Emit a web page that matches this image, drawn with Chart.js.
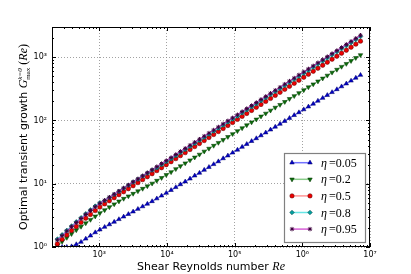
<!DOCTYPE html>
<html lang="en">
<head>
  <meta charset="UTF-8" />
  <title>Optimal transient growth</title>
  <style>
    body {
      margin: 0;
      background-color: #ffffff;
    }

    #chart-container {
      width: 411px;
      height: 274px;
      position: relative;
    }
  </style>
</head>
<body>

<div id="chart-container">
  <canvas id="growthChart" aria-label="Optimal transient growth versus shear Reynolds number" role="img"></canvas>
</div>

<script src="https://cdn.jsdelivr.net/npm/chart.js"></script>

<script>
// Shear Reynolds numbers of the computed points
const reynolds = [240, 282, 331, 389, 457, 537, 631, 741, 871, 1020,
  1200, 1410, 1660, 1950, 2290, 2690, 3160, 3720, 4370, 5130,
  6030, 7080, 8320, 9770, 11500, 13500, 15800, 18600, 21900, 25700,
  30200, 35500, 41700, 49000, 57500, 67600, 79400, 93300, 110000, 129000,
  151000, 178000, 209000, 245000, 288000, 339000, 398000, 468000, 550000, 646000,
  759000, 891000, 1050000, 1230000, 1450000, 1700000, 2000000, 2340000, 2750000, 3240000,
  3800000, 4470000, 5250000, 6170000, 7240000];

// G_max^{k=0} for each radius ratio eta
const gEta005 = [1.00, 1.00, 1.00, 1.02, 1.10, 1.20, 1.35, 1.51, 1.70, 1.88,
  2.07, 2.27, 2.49, 2.74, 3.01, 3.30, 3.62, 3.98, 4.37, 4.80,
  5.27, 5.83, 6.46, 7.14, 7.91, 8.79, 9.75, 10.8, 12.0, 13.4,
  14.8, 16.5, 18.3, 20.3, 22.5, 25.1, 27.8, 30.9, 34.3, 38.1,
  42.3, 47.0, 52.1, 57.9, 64.3, 71.4, 79.3, 88.1, 97.7, 109,
  121, 134, 149, 165, 183, 204, 226, 251, 279, 310,
  344, 382, 424, 471, 522];

const gEta02 = [1.05, 1.22, 1.40, 1.61, 1.85, 2.10, 2.38, 2.70, 3.05, 3.44,
  3.83, 4.27, 4.75, 5.28, 5.81, 6.35, 6.97, 7.64, 8.36, 9.16,
  10.1, 11.2, 12.4, 13.8, 15.3, 17.1, 19.0, 21.1, 23.5, 26.1,
  29.0, 32.4, 36.0, 40.0, 44.5, 49.4, 55.1, 61.2, 68.1, 75.7,
  84.3, 93.8, 104, 116, 129, 144, 160, 177, 197, 220,
  244, 272, 302, 336, 374, 416, 462, 514, 573, 637,
  708, 787, 875, 975, 1084];

const gEta05 = [1.12, 1.32, 1.55, 1.82, 2.11, 2.45, 2.85, 3.27, 3.76, 4.27,
  4.80, 5.37, 6.00, 6.70, 7.46, 8.34, 9.29, 10.4, 11.6, 12.9,
  14.4, 16.1, 17.9, 20.0, 22.3, 24.9, 27.8, 31.0, 34.7, 38.6,
  43.2, 48.1, 53.7, 60.0, 66.8, 74.6, 83.2, 92.9, 104, 116,
  129, 144, 161, 179, 200, 223, 249, 278, 310, 346,
  386, 431, 481, 537, 598, 668, 745, 832, 929, 1035,
  1156, 1288, 1439, 1607, 1791];

const gEta08 = [1.33, 1.56, 1.83, 2.15, 2.50, 2.90, 3.36, 3.86, 4.43, 5.01,
  5.42, 6.06, 6.77, 7.56, 8.46, 9.45, 10.6, 11.8, 13.2, 14.7,
  16.4, 17.8, 19.9, 22.2, 24.7, 27.7, 30.9, 34.6, 38.8, 43.3,
  48.3, 54.0, 60.4, 67.4, 75.3, 84.3, 94.2, 105, 117, 132,
  147, 164, 183, 205, 229, 257, 287, 320, 358, 400,
  447, 500, 559, 624, 696, 780, 871, 973, 1089, 1217,
  1358, 1520, 1698, 1897, 2123];

const gEta095 = [1.29, 1.51, 1.78, 2.09, 2.43, 2.82, 3.27, 3.76, 4.32, 4.90,
  5.47, 6.12, 6.84, 7.64, 8.55, 9.55, 10.7, 11.9, 13.3, 14.9,
  16.6, 18.6, 20.8, 23.2, 25.9, 29.0, 32.4, 36.2, 40.6, 45.3,
  50.6, 56.5, 63.2, 70.6, 78.9, 88.3, 98.6, 110, 123, 138,
  154, 172, 192, 215, 240, 269, 300, 335, 375, 419,
  468, 524, 585, 653, 729, 817, 912, 1019, 1140, 1274,
  1422, 1592, 1778, 1986, 2223];

const etaLabels = ['0.05', '0.2', '0.5', '0.8', '0.95'];

// axis ticks
const xMajorTicks = [1e3, 1e4, 1e5, 1e6, 1e7];
const xTickLabels = ['10³', '10⁴', '10⁵', '10⁶', '10⁷'];
const yMajorTicks = [1, 10, 100, 1000];
const yTickLabels = ['10⁰', '10¹', '10²', '10³'];

const X_MIN = 200, X_MAX = 1e7, Y_MIN = 1, Y_MAX = 3000;

// log ticks: majors plus the 2..9 minors in between, inside the axis range
function logTicks(majors, min, max) {
  const out = [];
  let decade = Math.pow(10, Math.floor(Math.log10(min)));
  while (decade <= max) {
    for (let m = 1; m <= 9; m++) {
      const v = m * decade;
      if (v >= min * 0.999 && v <= max * 1.001) {
        out.push({ value: v, major: majors.includes(v) });
      }
    }
    decade *= 10;
  }
  return out;
}

const series = [
  { g: gEta005, line: 'rgba(40, 40, 255, 0.65)', fill: '#0000c8', edge: '#00005a', style: 'triangle', rot: 0, r: 2.6, bw: 0.5 },
  { g: gEta02, line: 'rgba(60, 170, 60, 0.6)', fill: '#0a6e0a', edge: '#053005', style: 'triangle', rot: 180, r: 2.6, bw: 0.5 },
  { g: gEta05, line: 'rgba(255, 80, 80, 0.6)', fill: '#ee0000', edge: '#500000', style: 'circle', rot: 0, r: 2.2, bw: 0.5 },
  { g: gEta08, line: 'rgba(40, 220, 220, 0.7)', fill: '#00a0a0', edge: '#003838', style: 'rectRot', rot: 0, r: 2.3, bw: 0.5 },
  { g: gEta095, line: 'rgba(200, 40, 200, 0.75)', fill: '#3c003c', edge: '#3c003c', style: 'star', rot: 0, r: 2.2, bw: 1 }
];

const datasets = series.map((s, i) => ({
  label: 'η=' + etaLabels[i],
  data: reynolds.map((re, j) => ({ x: re, y: s.g[j] })),
  borderColor: s.line,
  borderWidth: 1.3,
  backgroundColor: s.fill,
  pointBackgroundColor: s.fill,
  pointBorderColor: s.edge,
  pointBorderWidth: s.bw,
  pointStyle: s.style,
  pointRotation: s.rot,
  pointRadius: s.r,
  tension: 0,
  order: series.length - 1 - i
}));

const mathFont = '"Liberation Serif", "DejaVu Serif", serif';
const sansFont = '"DejaVu Sans", sans-serif';

function layoutPieces(ctx, pieces) {
  let x = 0, pending = 0;
  const items = [];
  pieces.forEach(p => {
    ctx.font = p.font;
    const w = ctx.measureText(p.text).width;
    items.push(Object.assign({}, p, { x: x }));
    if (p.stack) {
      pending = Math.max(pending, w);
    } else {
      x += Math.max(w, pending);
      pending = 0;
    }
  });
  return { items: items, width: x };
}

function drawPieces(ctx, pieces, cx, baseline, rotate) {
  const lay = layoutPieces(ctx, pieces);
  ctx.save();
  if (rotate) {
    ctx.translate(baseline, cx);
    ctx.rotate(-Math.PI / 2);
  } else {
    ctx.translate(cx, baseline);
  }
  ctx.fillStyle = '#000';
  ctx.textBaseline = 'alphabetic';
  ctx.textAlign = 'left';
  lay.items.forEach(p => {
    ctx.font = p.font;
    ctx.fillText(p.text, p.x - lay.width / 2, p.dy || 0);
  });
  ctx.restore();
}

const extras = {
  id: 'extras',
  afterDraw(chart) {
    const ctx = chart.ctx;
    const a = chart.chartArea;
    const xs = chart.scales.x, ys = chart.scales.y;
    ctx.save();

    // inward tick marks on all four sides
    ctx.strokeStyle = '#000';
    ctx.lineWidth = 1;
    ctx.beginPath();
    xs.ticks.forEach(t => {
      const px = Math.round(xs.getPixelForValue(t.value)) + 0.5;
      const len = t.major ? 4 : 2;
      ctx.moveTo(px, a.bottom); ctx.lineTo(px, a.bottom - len);
      ctx.moveTo(px, a.top); ctx.lineTo(px, a.top + len);
    });
    ys.ticks.forEach(t => {
      const py = Math.round(ys.getPixelForValue(t.value)) + 0.5;
      const len = t.major ? 4 : 2;
      ctx.moveTo(a.left, py); ctx.lineTo(a.left + len, py);
      ctx.moveTo(a.right, py); ctx.lineTo(a.right - len, py);
    });
    ctx.stroke();

    // axes frame
    ctx.strokeRect(a.left + 0.5, a.top + 0.5, a.right - a.left - 1, a.bottom - a.top - 1);

    // legend
    const lx = 284, ly = 153, lw = 81, lh = 89;
    ctx.fillStyle = '#fff';
    ctx.fillRect(lx, ly, lw, lh);
    ctx.strokeStyle = '#808080';
    ctx.lineWidth = 1.2;
    ctx.strokeRect(lx + 0.5, ly + 0.5, lw, lh);
    series.forEach((s, i) => {
      const rowY = 162.7 + i * 16.6;
      ctx.strokeStyle = s.line;
      ctx.lineWidth = 1.5;
      ctx.beginPath();
      ctx.moveTo(292, rowY); ctx.lineTo(310, rowY);
      ctx.stroke();
      [292, 310].forEach(px => {
        ctx.fillStyle = s.fill;
        ctx.strokeStyle = s.edge;
        ctx.lineWidth = s.bw;
        Chart.helpers.drawPoint(ctx, {
          pointStyle: s.style, rotation: s.rot, radius: s.r, borderWidth: s.bw
        }, px, rowY);
      });
      ctx.fillStyle = '#000';
      ctx.font = 'italic 12px ' + mathFont;
      ctx.textBaseline = 'alphabetic';
      ctx.textAlign = 'left';
      ctx.fillText('η', 321, rowY + 4);
      ctx.font = '12px ' + mathFont;
      ctx.fillText('=' + etaLabels[i], 329, rowY + 4);
    });

    // axis titles
    drawPieces(ctx, [
      { text: 'Shear Reynolds number ', font: '11px ' + sansFont },
      { text: 'Re', font: 'italic 12px ' + mathFont }
    ], (a.left + a.right) / 2, 270, false);

    drawPieces(ctx, [
      { text: 'Optimal transient growth ', font: '11px ' + sansFont },
      { text: 'G', font: 'italic 12px ' + mathFont },
      { text: 'k=0', font: 'italic 7px ' + mathFont, dy: -5, stack: true },
      { text: 'max', font: '7px ' + mathFont, dy: 3 },
      { text: ' (', font: '12px ' + mathFont },
      { text: 'Re', font: 'italic 12px ' + mathFont },
      { text: ')', font: '12px ' + mathFont }
    ], (a.top + a.bottom) / 2, 27, true);

    ctx.restore();
  }
};

function gridColor(c) {
  return c.tick && c.tick.major ? '#8a8a8a' : 'rgba(0,0,0,0)';
}

new Chart(document.getElementById('growthChart').getContext('2d'), {
  type: 'line',
  data: { datasets: datasets },
  options: {
    responsive: true,
    maintainAspectRatio: false,
    animation: false,
    layout: {
      autoPadding: false,
      padding: { left: 0, top: 27, right: 41, bottom: 0 }
    },
    scales: {
      x: {
        type: 'logarithmic',
        min: X_MIN,
        max: X_MAX,
        afterBuildTicks: s => { s.ticks = logTicks(xMajorTicks, X_MIN, X_MAX); },
        afterFit: s => { s.height = 27; },
        grid: { color: gridColor, lineWidth: 0.8, drawTicks: false },
        border: { display: false, dash: [1, 2] },
        ticks: {
          autoSkip: false,
          maxRotation: 0,
          padding: 3,
          color: '#000',
          font: { family: 'DejaVu Sans', size: 8 },
          callback: (v, i, ticks) => ticks[i].major ? xTickLabels[xMajorTicks.indexOf(v)] : ''
        }
      },
      y: {
        type: 'logarithmic',
        min: Y_MIN,
        max: Y_MAX,
        afterBuildTicks: s => { s.ticks = logTicks(yMajorTicks, Y_MIN, Y_MAX); },
        afterFit: s => { s.width = 52; },
        grid: { color: gridColor, lineWidth: 0.8, drawTicks: false },
        border: { display: false, dash: [1, 2] },
        ticks: {
          autoSkip: false,
          padding: 5,
          color: '#000',
          font: { family: 'DejaVu Sans', size: 8 },
          callback: (v, i, ticks) => ticks[i].major ? yTickLabels[yMajorTicks.indexOf(v)] : ''
        }
      }
    },
    plugins: {
      legend: { display: false },
      tooltip: { enabled: false }
    }
  },
  plugins: [extras]
});
</script>

</body>
</html>
